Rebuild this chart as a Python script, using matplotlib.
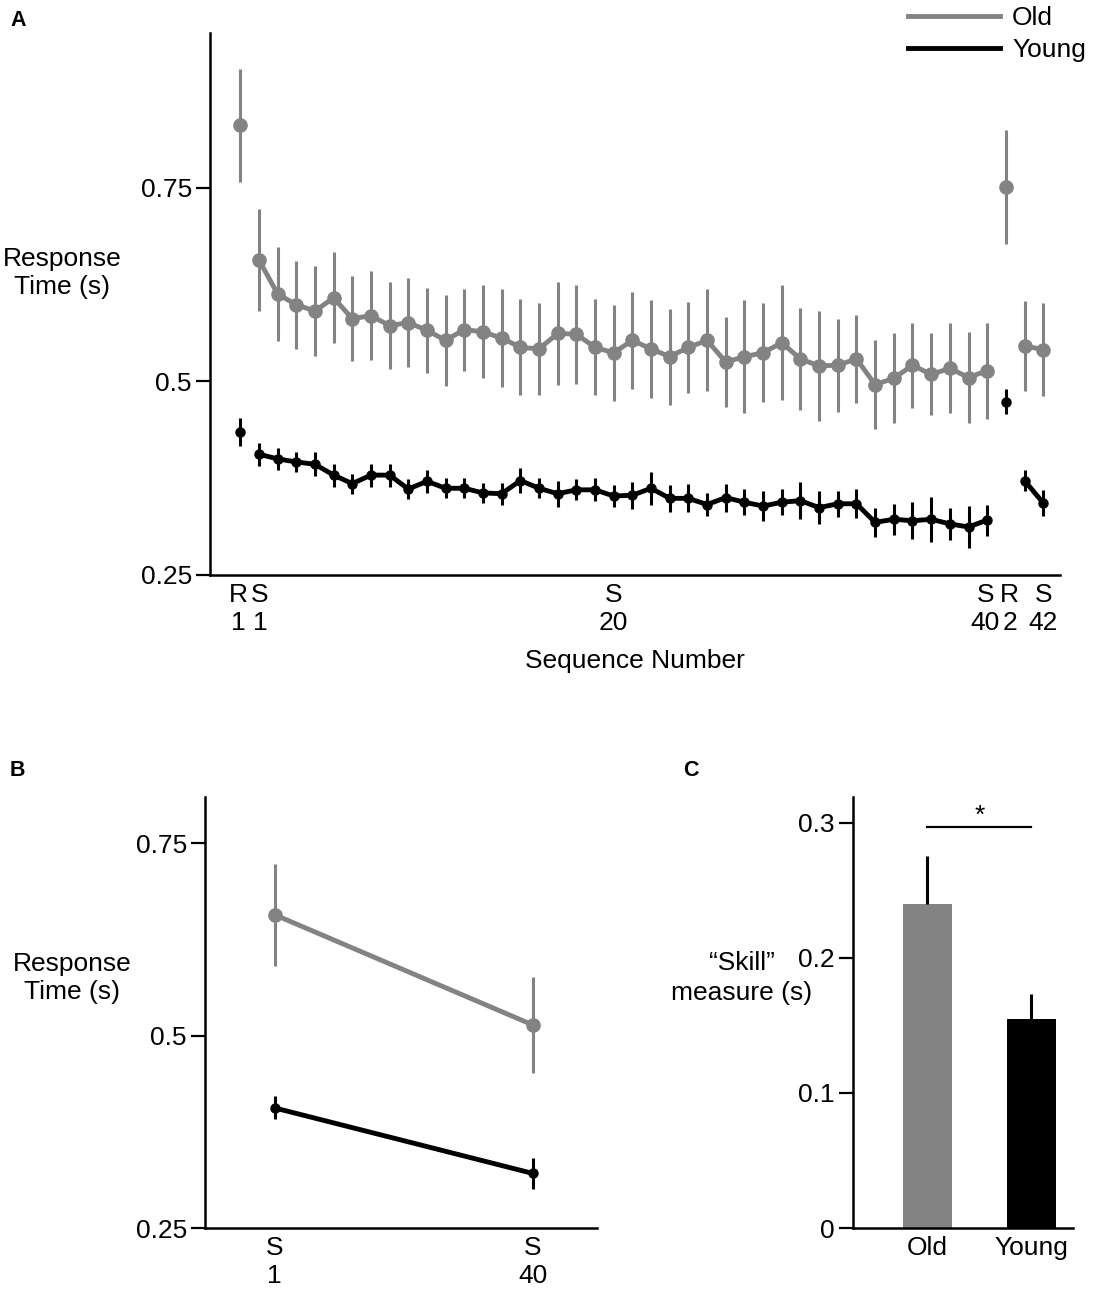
import matplotlib
matplotlib.use('Agg')
import matplotlib.pyplot as plt
from matplotlib.transforms import ScaledTranslation
import numpy as np

plt.rcParams['font.family'] = ['Liberation Sans', 'DejaVu Sans']
plt.rcParams['font.size'] = 19

GRAY = '#838383'

# Panel A: sequences S1..S40 (Old / Young), plus random blocks R1, R2 and S41, S42
old_s = [0.657, 0.613, 0.599, 0.591, 0.608, 0.581, 0.585, 0.572, 0.576, 0.566,
         0.553, 0.567, 0.564, 0.556, 0.544, 0.542, 0.562, 0.561, 0.544, 0.537,
         0.553, 0.542, 0.532, 0.544, 0.553, 0.525, 0.532, 0.537, 0.550, 0.529,
         0.520, 0.521, 0.529, 0.496, 0.504, 0.521, 0.509, 0.517, 0.505, 0.514]
old_s_err = [0.066, 0.061, 0.057, 0.058, 0.059, 0.055, 0.057, 0.056, 0.057, 0.055,
             0.059, 0.053, 0.060, 0.063, 0.062, 0.059, 0.067, 0.064, 0.062, 0.062,
             0.063, 0.063, 0.062, 0.059, 0.066, 0.058, 0.073, 0.064, 0.074, 0.066,
             0.071, 0.060, 0.057, 0.057, 0.058, 0.055, 0.053, 0.058, 0.059, 0.062]
young_s = [0.406, 0.400, 0.396, 0.393, 0.379, 0.368, 0.379, 0.379, 0.361, 0.371,
           0.362, 0.362, 0.356, 0.355, 0.372, 0.362, 0.355, 0.360, 0.360, 0.352,
           0.353, 0.362, 0.349, 0.349, 0.341, 0.350, 0.344, 0.339, 0.344, 0.346,
           0.337, 0.342, 0.342, 0.318, 0.322, 0.320, 0.322, 0.316, 0.312, 0.321]
young_s_err = [0.015, 0.0145, 0.013, 0.0156, 0.015, 0.013, 0.015, 0.015, 0.013, 0.015,
               0.013, 0.013, 0.013, 0.014, 0.0156, 0.013, 0.0167, 0.0135, 0.015, 0.0145,
               0.0175, 0.021, 0.017, 0.018, 0.015, 0.018, 0.0165, 0.019, 0.017, 0.024,
               0.021, 0.017, 0.019, 0.019, 0.020, 0.024, 0.029, 0.021, 0.027, 0.020]

old_r1, old_r1_err = 0.831, 0.073
young_r1, young_r1_err = 0.435, 0.018
old_r2, old_r2_err = 0.751, 0.074
young_r2, young_r2_err = 0.474, 0.016
old_post = [0.546, 0.541]
old_post_err = [0.058, 0.060]
young_post = [0.372, 0.343]
young_post_err = [0.014, 0.017]

a_tick_labels = ['R\n1', 'S\n1', 'S\n20', 'S\n40', 'R\n2', 'S\n42']

# Panel C: skill measure
groups = ['Old', 'Young']
skill = [0.240, 0.155]
skill_err = [0.035, 0.018]


def style_axes(ax):
    for side in ['top', 'right']:
        ax.spines[side].set_visible(False)
    for side in ['left', 'bottom']:
        ax.spines[side].set_linewidth(1.8)
    ax.tick_params(axis='y', length=10, width=1.6, pad=3)
    ax.tick_params(axis='x', length=0, pad=6)


def series(ax, x, y, err, color, ms, lw, elw):
    line = ax.errorbar(x, y, yerr=err, color=color, marker='o', ms=ms, lw=lw,
                       elinewidth=elw, capsize=0)
    return line


W, H = 1093, 1300
fig = plt.figure(figsize=(W / 100, H / 100), dpi=100)

# ---------------- Panel A ----------------
axA = fig.add_axes([210 / W, 1 - 575 / H, 850 / W, 542 / H])
s_pos = np.arange(1, 41)
post_pos = np.array([42, 43])

series(axA, [0], [old_r1], [old_r1_err], GRAY, 9.5, 3.5, 2.2)
series(axA, s_pos, old_s, old_s_err, GRAY, 9.5, 3.5, 2.2)
series(axA, [41], [old_r2], [old_r2_err], GRAY, 9.5, 3.5, 2.2)
series(axA, post_pos, old_post, old_post_err, GRAY, 9.5, 3.5, 2.2)

series(axA, [0], [young_r1], [young_r1_err], 'black', 6.5, 3.5, 2.2)
series(axA, s_pos, young_s, young_s_err, 'black', 6.5, 3.5, 2.2)
series(axA, [41], [young_r2], [young_r2_err], 'black', 6.5, 3.5, 2.2)
series(axA, post_pos, young_post, young_post_err, 'black', 6.5, 3.5, 2.2)

axA.set_xlim(-1.62, 43.9)
axA.set_ylim(0.25, 0.95)
axA.set_yticks([0.25, 0.5, 0.75])
axA.set_yticklabels(['0.25', '0.5', '0.75'])
axA.set_xticks([0, 1, 20, 40, 41, 43])
axA.set_xticklabels(a_tick_labels)
style_axes(axA)
# nudge the crowded tick labels apart a few pixels, as in the original
for lbl, dx in zip(axA.get_xticklabels(), [-2, 1, 0, -2, 4, 0]):
    lbl.set_transform(lbl.get_transform() + ScaledTranslation(dx / 100, 0, fig.dpi_scale_trans))
axA.set_xlabel('Sequence Number', labelpad=10)
fig.text(62 / W, 1 - 273 / H, 'Response\nTime (s)', ha='center', va='center')
fig.text(10 / W, 1 - 20 / H, 'A', fontsize=15.5, fontweight='bold', va='center')

old_handle = plt.Line2D([], [], color=GRAY, lw=3.5)
young_handle = plt.Line2D([], [], color='black', lw=3.5)
fig.legend([old_handle, young_handle], ['Old', 'Young'], loc='upper left',
           bbox_to_anchor=(908 / W, 1 - 6 / H), frameon=False, borderpad=0,
           borderaxespad=0, handlelength=3.5, handletextpad=0.45,
           labelspacing=0.3)

# ---------------- Panel B ----------------
axB = fig.add_axes([205 / W, 1 - 1228 / H, 392 / W, 431 / H])
b_pos = [0, 1]
series(axB, b_pos, [old_s[0], old_s[-1]], [old_s_err[0], old_s_err[-1]], GRAY, 9.5, 3.5, 2.2)
series(axB, b_pos, [young_s[0], young_s[-1]], [young_s_err[0], young_s_err[-1]], 'black', 6.5, 3.5, 2.2)
axB.set_xlim(-0.27, 1.25)
axB.set_ylim(0.25, 0.81)
axB.set_yticks([0.25, 0.5, 0.75])
axB.set_yticklabels(['0.25', '0.5', '0.75'])
axB.set_xticks(b_pos)
axB.set_xticklabels(['S\n1', 'S\n40'])
style_axes(axB)
fig.text(72 / W, 1 - 978 / H, 'Response\nTime (s)', ha='center', va='center')
fig.text(10 / W, 1 - 770 / H, 'B', fontsize=15.5, fontweight='bold', va='center')

# ---------------- Panel C ----------------
axC = fig.add_axes([853 / W, 1 - 1228 / H, 220 / W, 431 / H])
c_pos = np.arange(len(groups))
axC.bar(c_pos, skill, width=0.47, color=[GRAY, 'black'])
axC.errorbar(c_pos, skill, yerr=[[0, 0], skill_err], fmt='none', ecolor='black',
             elinewidth=2.2, capsize=0)
axC.plot([0, 1], [0.297, 0.297], color='black', lw=1.6)
axC.text(0.5, 0.305, '*', ha='center', va='center', fontsize=19)
axC.set_xlim(-0.716, 1.40)
axC.set_ylim(0, 0.319)
axC.set_yticks([0, 0.1, 0.2, 0.3])
axC.set_yticklabels(['0', '0.1', '0.2', '0.3'])
axC.set_xticks(c_pos)
axC.set_xticklabels(groups)
style_axes(axC)
fig.text(742 / W, 1 - 963 / H, '\u201cSkill\u201d', ha='center', va='center')
fig.text(742 / W, 1 - 993 / H, 'measure (s)', ha='center', va='center')
fig.text(683 / W, 1 - 770 / H, 'C', fontsize=15.5, fontweight='bold', va='center')

fig.savefig('out.png', dpi=100)
